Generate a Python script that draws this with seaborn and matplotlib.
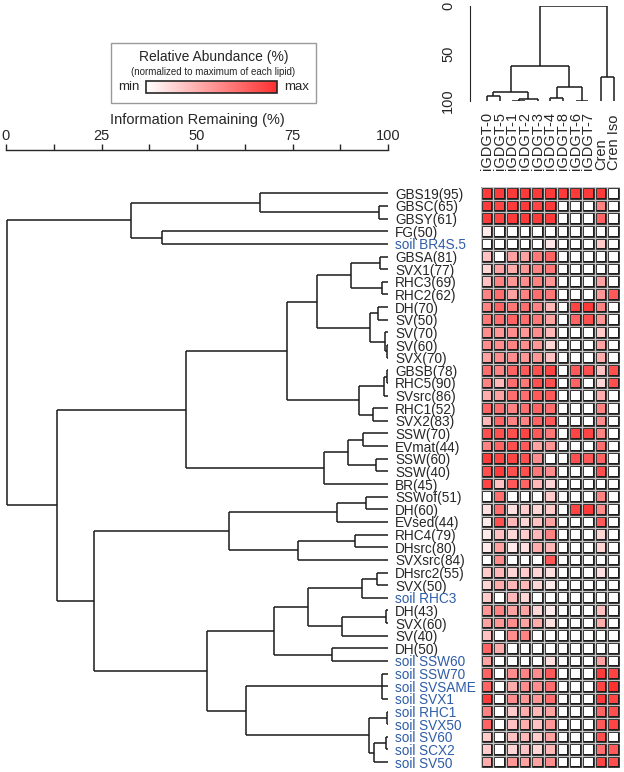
import numpy as np
import pandas as pd
import matplotlib
matplotlib.use('Agg')
import matplotlib.pyplot as plt
import seaborn as sns
from matplotlib.colors import LinearSegmentedColormap
from matplotlib.patches import Rectangle
from matplotlib.cm import ScalarMappable

# ---- data ----
row_labels = ['GBS19(95)', 'GBSC(65)', 'GBSY(61)', 'FG(50)', 'soil BR4S.5',
              'GBSA(81)', 'SVX1(77)', 'RHC3(69)', 'RHC2(62)', 'DH(70)',
              'SV(50)', 'SV(70)', 'SV(60)', 'SVX(70)', 'GBSB(78)',
              'RHC5(90)', 'SVsrc(86)', 'RHC1(52)', 'SVX2(83)', 'SSW(70)',
              'EVmat(44)', 'SSW(60)', 'SSW(40)', 'BR(45)', 'SSWof(51)',
              'DH(60)', 'EVsed(44)', 'RHC4(79)', 'DHsrc(80)', 'SVXsrc(84)',
              'DHsrc2(55)', 'SVX(50)', 'soil RHC3', 'DH(43)', 'SVX(60)',
              'SV(40)', 'DH(50)', 'soil SSW60', 'soil SSW70', 'soil SVSAME',
              'soil SVX1', 'soil RHC1', 'soil SVX50', 'soil SV60', 'soil SCX2',
              'soil SV50']

col_labels = ['iGDGT-0', 'iGDGT-5', 'iGDGT-1', 'iGDGT-2', 'iGDGT-3', 'iGDGT-4',
              'iGDGT-8', 'iGDGT-6', 'iGDGT-7', 'Cren', 'Cren Iso']

# relative abundance, one list per lipid (rows in the order above)
igdgt0 = [0.95, 0.95, 0.95, 0.1, 0, 0.3, 0.2, 0.3, 0.6, 0.6,
          0.65, 0.55, 0.55, 0.45, 0.7, 0.6, 0.4, 0.75, 0.35, 0.85,
          0.6, 0.95, 0.85, 0.9, 0, 0.15, 0.1, 0.1, 0.1, 0,
          0.25, 0.2, 0.25, 0.5, 0.45, 0.3, 0.75, 0.45, 0.75, 0.75,
          0.95, 0.6, 0.75, 0.25, 0.25, 0.4]
igdgt5 = [0.95, 0.9, 0.9, 0, 0, 0, 0.45, 0.6, 0.7, 0.75,
          0.7, 0.5, 0.55, 0.55, 0.6, 0.35, 0.45, 0.7, 0.75, 0.85,
          0.75, 0.9, 0.95, 0.3, 0.7, 0.7, 0.85, 0.3, 0.45, 0.55,
          0.35, 0.4, 0, 0.6, 0.5, 0, 0.4, 0, 0, 0,
          0, 0, 0, 0, 0, 0]
igdgt1 = [0.95, 0.95, 0.95, 0, 0, 0.45, 0.4, 0.5, 0.45, 0.65,
          0.75, 0.55, 0.6, 0.55, 0.75, 0.7, 0.7, 0.6, 0.6, 0.85,
          0.85, 0.9, 0.85, 0.8, 0, 0.15, 0.35, 0.2, 0.1, 0,
          0.2, 0.35, 0.35, 0.45, 0.55, 0.55, 0, 0, 0.55, 0.4,
          0.55, 0.25, 0.3, 0.3, 0.2, 0.5]
igdgt2 = [0.95, 0.95, 0.95, 0, 0, 0.45, 0.5, 0.55, 0.6, 0.7,
          0.7, 0.5, 0.55, 0.5, 0.8, 0.65, 0.7, 0.7, 0.6, 0.9,
          0.8, 0.85, 0.85, 0.75, 0, 0.25, 0.2, 0.25, 0.15, 0,
          0.25, 0.35, 0.2, 0.45, 0.45, 0.6, 0, 0, 0.6, 0.55,
          0.5, 0.4, 0.4, 0.35, 0.3, 0.45]
igdgt3 = [0.95, 0.9, 0.95, 0, 0, 0.65, 0.6, 0.6, 0.7, 0.6,
          0.65, 0.55, 0.5, 0.5, 0.85, 0.85, 0.8, 0.75, 0.75, 0.8,
          0.45, 0.55, 0.65, 0.35, 0, 0.2, 0.3, 0.35, 0.4, 0,
          0.2, 0.2, 0, 0.2, 0.4, 0, 0, 0, 0.55, 0.55,
          0.5, 0.35, 0.3, 0.25, 0.2, 0.45]
igdgt4 = [0.95, 0.95, 0.95, 0, 0.12, 0.75, 0.65, 0.5, 0.65, 0.35,
          0.45, 0.35, 0.2, 0.3, 0.9, 0.85, 0.8, 0.7, 0.8, 0.65,
          0.5, 0, 0.55, 0.2, 0.25, 0.25, 0.45, 0.6, 0.35, 0.8,
          0.15, 0.1, 0, 0.1, 0.15, 0, 0, 0.15, 0.8, 0.7,
          0.7, 0.45, 0.5, 0.45, 0.35, 0.55]
igdgt8 = [0.95, 0, 0, 0, 0, 0, 0, 0, 0, 0,
          0, 0, 0, 0, 0, 0, 0, 0, 0, 0,
          0, 0, 0, 0, 0, 0, 0, 0, 0, 0,
          0, 0, 0, 0, 0, 0, 0, 0, 0, 0,
          0, 0, 0, 0, 0, 0]
igdgt6 = [0.95, 0, 0, 0, 0, 0, 0, 0, 0, 0.9,
          0.75, 0, 0, 0, 0.8, 0.75, 0, 0, 0, 0.9,
          0, 0.85, 0, 0, 0, 0.9, 0, 0, 0, 0,
          0, 0, 0, 0, 0, 0, 0, 0, 0, 0,
          0, 0, 0, 0, 0, 0]
igdgt7 = [0.95, 0, 0, 0, 0, 0, 0, 0, 0, 0.95,
          0.85, 0, 0, 0, 0.85, 0, 0, 0, 0, 0.9,
          0, 0.8, 0, 0, 0, 0.95, 0, 0, 0, 0,
          0, 0, 0, 0, 0, 0, 0, 0, 0, 0,
          0, 0, 0, 0, 0, 0]
cren = [0.95, 0.6, 0.75, 0, 0.25, 0, 0, 0.45, 0.5, 0.6,
        0.5, 0.25, 0.45, 0.4, 0.3, 0.2, 0.4, 0.6, 0.55, 0.6,
        0.7, 0.75, 0.85, 0, 0.6, 0.55, 0.8, 0.2, 0.2, 0,
        0.15, 0, 0, 0.3, 0.4, 0, 0, 0.45, 0.95, 0.9,
        0.95, 0.75, 0.8, 0.85, 0.7, 0.9]
cren_iso = [0, 0, 0, 0, 0, 0, 0, 0, 0.8, 0,
            0, 0, 0, 0, 0.85, 0.85, 0, 0, 0, 0,
            0, 0, 0, 0, 0, 0, 0, 0, 0, 0,
            0, 0, 0, 0, 0, 0, 0, 0, 0.9, 1.0,
            0.9, 0.85, 0.9, 0, 0.8, 0.85]

# dendrograms: (height in % information remaining, [children]); ints are leaves
row_tree = (0.3, [
    (32.7, [(66.5, [0, (97.6, [1, 2])]), (40.8, [3, 4])]),
    (13.3, [
        (47.0, [
            (73.5, [
                (81.3, [(90.3, [(97.9, [5, 6]), (98.5, [7, 8])]),
                        (95.3, [(97.3, [9, 10]), (99.2, [11, (99.8, [12, 13])])])]),
                (92.4, [(98.9, [(99.8, [14, 15]), 16]), (96.0, [17, 18])])]),
            (83.3, [(89.4, [(93.5, [19, 20]), (96.8, [21, 22])]), 23])]),
        (23.1, [
            (58.3, [(86.7, [(94.2, [24, 25]), 26]), (76.4, [(91.4, [27, 28]), 29])]),
            (52.5, [
                (70.2, [(79.1, [(93.1, [(97.0, [30, 31]), 32]),
                                (88.0, [(99.5, [33, 34]), 35])]),
                        (85.4, [36, 37])]),
                (62.8, [(98.3, [38, 39, 40]),
                        (95.0, [(99.8, [41, 42]), (96.3, [(99.5, [43, 44]), 45])])])])])])])

col_tree = (0.0, [
    (63.2, [(90.2, [(94.7, [0, 1]), (98.2, [(99.7, [2, 3]), 4])]),
            (85.6, [(97.2, [5, 6]), (99.5, [7, 8])])]),
    (74.4, [9, 10])])

# ---- drawing ----
sns.set_style('white')
plt.rcParams['font.family'] = ['Liberation Sans', 'DejaVu Sans']

W, H = 624, 772
fig = plt.figure(figsize=(W / 100, H / 100), dpi=100)


def px_box(x0, y0, x1, y1):
    return [x0 / W, 1 - y1 / H, (x1 - x0) / W, (y1 - y0) / H]


LINE = dict(color='#1a1a1a', lw=1.1, solid_capstyle='butt')


def draw_tree(ax, node, horizontal):
    # returns (leaf-axis position, height) of node
    if isinstance(node, int):
        return node + 0.5, 100.0
    h, kids = node
    pts = [draw_tree(ax, k, horizontal) for k in kids]
    pos = [p for p, _ in pts]
    for p, hk in pts:
        if horizontal:
            ax.plot([h, hk], [p, p], **LINE)
        else:
            ax.plot([p, p], [h, hk], **LINE)
    if horizontal:
        ax.plot([h, h], [min(pos), max(pos)], **LINE)
    else:
        ax.plot([min(pos), max(pos)], [h, h], **LINE)
    return (min(pos) + max(pos)) / 2, h


top_px, cell = 187.0, 12.64
bot_px = top_px + len(row_labels) * cell
hm_left = 480.6
hm_right = hm_left + len(col_labels) * 12.66

ax_row = fig.add_axes(px_box(6, top_px, 388, bot_px))
ax_hm = fig.add_axes(px_box(hm_left, top_px, hm_right, bot_px))
ax_col = fig.add_axes(px_box(hm_left, 6, hm_right, 101))

# row dendrogram
draw_tree(ax_row, row_tree, True)
ax_row.set_xlim(0, 100)
ax_row.set_ylim(len(row_labels), 0)
for s in ['left', 'right', 'bottom']:
    ax_row.spines[s].set_visible(False)
ax_row.spines['top'].set_position(('outward', 27))
ax_row.spines['top'].set_linewidth(1.0)
ax_row.xaxis.tick_top()
ax_row.set_xticks(np.arange(0, 100.1, 12.5))
ax_row.set_xticklabels(['0', '', '25', '', '50', '', '75', '', '100'])
ax_row.tick_params(axis='x', length=4, width=1.0, pad=1, labelsize=10.5)
ax_row.xaxis.set_label_position('top')
ax_row.set_xlabel('Information Remaining (%)', fontsize=10.5, labelpad=3)
ax_row.yaxis.tick_right()
ax_row.set_yticks(np.arange(len(row_labels)) + 0.5)
ax_row.set_yticklabels(row_labels)
ax_row.tick_params(axis='y', length=0, pad=5, labelsize=9.8)
for lbl in ax_row.get_yticklabels():
    if lbl.get_text().startswith('soil'):
        lbl.set_color('#2f5da8')

# heatmap
cmap = LinearSegmentedColormap.from_list('wr', ['#ffffff', '#ff3030'])
df = pd.DataFrame({
    'iGDGT-0': igdgt0, 'iGDGT-5': igdgt5, 'iGDGT-1': igdgt1, 'iGDGT-2': igdgt2,
    'iGDGT-3': igdgt3, 'iGDGT-4': igdgt4, 'iGDGT-8': igdgt8, 'iGDGT-6': igdgt6,
    'iGDGT-7': igdgt7, 'Cren': cren, 'Cren Iso': cren_iso}, index=row_labels)
df = df[col_labels]
sns.heatmap(df, ax=ax_hm, cmap=cmap, vmin=0, vmax=1, cbar=False,
            linewidths=2.6, linecolor='#1c1c1c', xticklabels=True, yticklabels=False)
ax_hm.hlines(np.arange(len(row_labels) + 1), 0, len(col_labels), colors='#c4c4c4', lw=1.0)
ax_hm.vlines(np.arange(len(col_labels) + 1), 0, len(row_labels), colors='#c4c4c4', lw=1.0)
ax_hm.xaxis.tick_top()
ax_hm.set_xticklabels(col_labels, rotation=90, fontsize=10.5)
ax_hm.tick_params(axis='x', length=0, pad=12)

# column dendrogram
draw_tree(ax_col, col_tree, False)
ax_col.set_xlim(0, len(col_labels))
ax_col.set_ylim(100, 0)
for s in ['top', 'right', 'bottom']:
    ax_col.spines[s].set_visible(False)
ax_col.spines['left'].set_position(('outward', 7.6))
ax_col.set_xticks([])
ax_col.set_yticks([0, 25, 50, 75, 100])
ax_col.set_yticklabels(['0', '', '50', '', '100'])
ax_col.tick_params(axis='y', length=4.8, pad=6, labelsize=10.5, labelrotation=90)
for lbl in ax_col.get_yticklabels():
    lbl.set_va('center')

# legend box
fig.patches.append(Rectangle((111 / W, 1 - 103 / H), 205 / W, 60 / H,
                             transform=fig.transFigure, fill=False,
                             edgecolor='#9a9a9a', lw=1.0))
fig.text(213.5 / W, 1 - 57 / H, 'Relative Abundance (%)', ha='center', va='center', fontsize=10)
fig.text(213.5 / W, 1 - 72 / H, '(normalized to maximum of each lipid)',
         ha='center', va='center', fontsize=7)
cax = fig.add_axes(px_box(146, 81, 277, 93))
cb = fig.colorbar(ScalarMappable(cmap=cmap), cax=cax, orientation='horizontal')
cb.set_ticks([])
cb.outline.set_linewidth(1.2)
fig.text(140 / W, 1 - 87 / H, 'min', ha='right', va='center', fontsize=9.5)
fig.text(284 / W, 1 - 87 / H, 'max', ha='left', va='center', fontsize=9.5)

fig.savefig('out.png', dpi=100)
